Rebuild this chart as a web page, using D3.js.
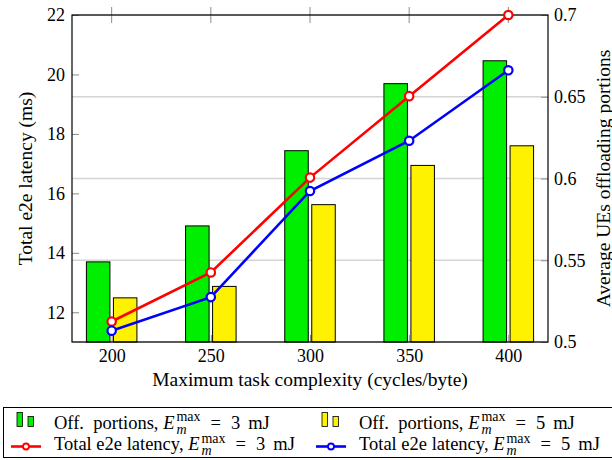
<html><head>
<meta charset="utf-8">
<title>Latency vs complexity</title>
<script type="text/javascript" src="https://d3js.org/d3.v7.min.js"></script>
<style>
  body { margin: 0; background: white; }
  text { font-family: "Liberation Serif", serif; fill: black; white-space: pre; }
</style>
</head>
<body>
<div id="chart"></div>
<script>

// data
var complexity = [200, 250, 300, 350, 400];
var offload3 = [0.549, 0.571, 0.617, 0.658, 0.672];
var offload5 = [0.527, 0.534, 0.584, 0.608, 0.620];
var latency3 = [11.69, 13.34, 16.53, 19.27, 22.0];
var latency5 = [11.38, 12.51, 16.08, 17.77, 20.14];
var leftTicks = [12, 14, 16, 18, 20, 22];
var rightTicks = [0.5, 0.55, 0.6, 0.65, 0.7];

var W = 612, H = 460;
var margin = {top: 15, right: 64, bottom: 118, left: 72};
var width = W - margin.left - margin.right;
var height = H - margin.top - margin.bottom;

var svg = d3.select("#chart")
  .append("svg")
    .attr("width", W)
    .attr("height", H);

var g = svg.append("g")
    .attr("transform", "translate(" + margin.left + "," + margin.top + ")");

var xScale = d3.scaleLinear().domain([180, 420]).range([0, width]);
var yLeft = d3.scaleLinear().domain([11, 22]).range([height, 0]);
var yRight = d3.scaleLinear().domain([0.5, 0.7]).range([height, 0]);

// grid from the right axis
g.append("g")
  .selectAll("line")
  .data(rightTicks)
  .join("line")
    .attr("x1", 0).attr("x2", width)
    .attr("y1", function(d) { return yRight(d); })
    .attr("y2", function(d) { return yRight(d); })
    .attr("stroke", "#d4d4d4")
    .attr("stroke-width", 1.3);

// bars
var barW = 23.5, off = 13.5;
function bars(vals, color, dx) {
  g.append("g")
    .selectAll("rect")
    .data(complexity)
    .join("rect")
      .attr("x", function(d) { return xScale(d) + dx - barW / 2; })
      .attr("y", function(d, i) { return yRight(vals[i]); })
      .attr("width", barW)
      .attr("height", function(d, i) { return height - yRight(vals[i]); })
      .attr("fill", color)
      .attr("stroke", "black")
      .attr("stroke-width", 1);
}
bars(offload3, "#00ee00", -off);
bars(offload5, "#fff200", off);

// axes (ticks drawn inside, gray)
var tickCol = "#8c8c8c";
var xAxis = g.append("g")
    .attr("transform", "translate(0," + height + ")")
    .call(d3.axisBottom(xScale).tickValues(complexity).tickSize(-7).tickPadding(7).tickFormat(d3.format("d")));
var yAxisL = g.append("g")
    .call(d3.axisLeft(yLeft).tickValues(leftTicks).tickSize(-7).tickPadding(7));
var yAxisR = g.append("g")
    .attr("transform", "translate(" + width + ",0)")
    .call(d3.axisRight(yRight).tickValues(rightTicks).tickSize(-7).tickPadding(6).tickFormat(function(d) { return d3.format("")(d); }));

[xAxis, yAxisL, yAxisR].forEach(function(a) {
  a.select(".domain").remove();
  a.selectAll(".tick line").attr("stroke", tickCol);
  a.selectAll(".tick text")
    .style("font-family", "Liberation Serif, serif")
    .style("font-size", "18px");
});

// top ticks crossing the top edge
g.append("g")
  .selectAll("line")
  .data(complexity)
  .join("line")
    .attr("x1", function(d) { return xScale(d); })
    .attr("x2", function(d) { return xScale(d); })
    .attr("y1", -8).attr("y2", 8)
    .attr("stroke", tickCol);

// frame
g.append("rect")
    .attr("width", width).attr("height", height)
    .attr("fill", "none")
    .attr("stroke", "black")
    .attr("stroke-width", 1.2);

// latency lines
function series(vals, color) {
  g.append("path")
    .datum(complexity)
    .attr("fill", "none")
    .attr("stroke", color)
    .attr("stroke-width", 2.6)
    .attr("d", d3.line()
      .x(function(d) { return xScale(d); })
      .y(function(d, i) { return yLeft(vals[i]); }));
  g.append("g")
    .selectAll("circle")
    .data(complexity)
    .join("circle")
      .attr("cx", function(d) { return xScale(d); })
      .attr("cy", function(d, i) { return yLeft(vals[i]); })
      .attr("r", 4.2)
      .attr("fill", "white")
      .attr("stroke", color)
      .attr("stroke-width", 2.2);
}
series(latency3, "#ff0000");
series(latency5, "#0000ff");

// axis titles
svg.append("text")
    .attr("x", margin.left + width / 2)
    .attr("y", 386)
    .attr("text-anchor", "middle")
    .style("font-size", "19.5px")
    .text("Maximum task complexity (cycles/byte)");

svg.append("text")
    .attr("transform", "translate(32," + (margin.top + height / 2) + ") rotate(-90)")
    .attr("text-anchor", "middle")
    .style("font-size", "19.5px")
    .text("Total e2e latency (ms)");

svg.append("text")
    .attr("transform", "translate(610," + (margin.top + height / 2) + ") rotate(-90)")
    .attr("text-anchor", "middle")
    .style("font-size", "19.5px")
    .text("Average UEs offloading portions");

// legend
var leg = svg.append("g");
leg.append("rect")
    .attr("x", 3.5).attr("y", 407.5)
    .attr("width", 640).attr("height", 50)
    .attr("fill", "white")
    .attr("stroke", "black")
    .attr("stroke-width", 1);

function legendLabel(x, y, before, energy) {
  var t = leg.append("g").attr("transform", "translate(" + x + "," + y + ")");
  var cx = 0;
  function part(s, size, dy, italic) {
    var el = t.append("text")
        .attr("x", cx).attr("y", dy)
        .style("font-size", size + "px")
        .style("font-style", italic ? "italic" : "normal")
        .text(s);
    return el.node().getComputedTextLength();
  }
  cx += part(before, 18.5, 0, false);
  cx += part("E", 18.5, 0, true) + 2;
  var w1 = part("max", 14, -7.5, false);
  var w2 = part("m", 14, 5, true);
  cx += Math.max(w1, w2) + 10;
  cx += part("=", 18.5, 0, false) + 10;
  cx += part(energy, 18.5, 0, false) + 8;
  part("mJ", 18.5, 0, false);
}

var cols = [0, 305];
var barCols = ["#00ee00", "#fff200"];
var lineCols = ["#ff0000", "#0000ff"];
var energies = ["3", "5"];
cols.forEach(function(c, k) {
  leg.append("rect").attr("x", 17 + c).attr("y", 412.5).attr("width", 5.5).attr("height", 14)
    .attr("fill", barCols[k]).attr("stroke", "black").attr("stroke-width", 0.8);
  leg.append("rect").attr("x", 28 + c).attr("y", 416.5).attr("width", 5.5).attr("height", 10)
    .attr("fill", barCols[k]).attr("stroke", "black").attr("stroke-width", 0.8);
  leg.append("line").attr("x1", 11 + c).attr("x2", 41 + c).attr("y1", 446.5).attr("y2", 446.5)
    .attr("stroke", lineCols[k]).attr("stroke-width", 2.6);
  leg.append("circle").attr("cx", 26 + c).attr("cy", 446.5).attr("r", 3)
    .attr("fill", "white").attr("stroke", lineCols[k]).attr("stroke-width", 1.8);
  legendLabel(54 + c, 428.5, "Off.  portions, ", energies[k]);
  legendLabel(54 + c, 450, "Total e2e latency, ", energies[k]);
});

</script>
</body></html>
